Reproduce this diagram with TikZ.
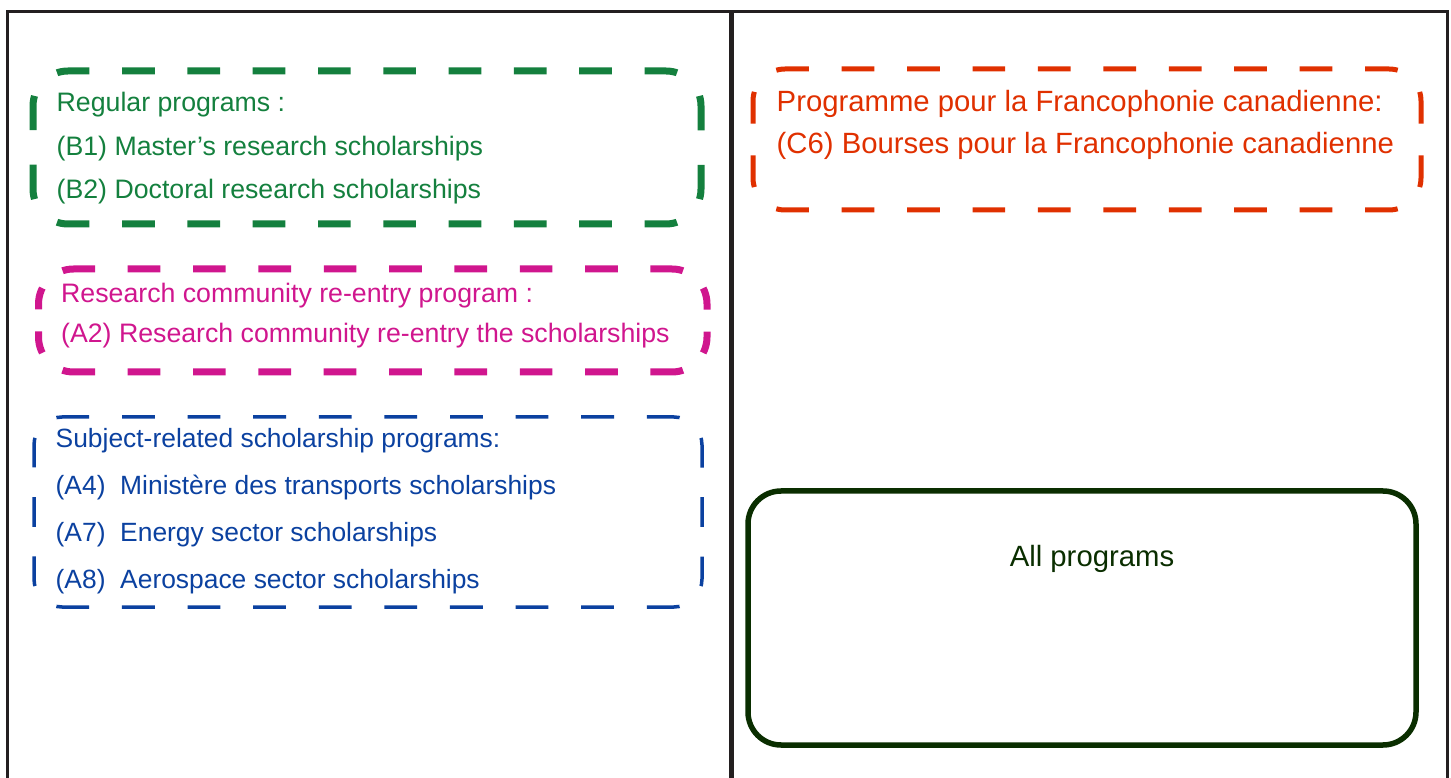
\documentclass[tikz,border=0pt]{standalone}
\usepackage{fontspec}
\setmainfont{Liberation Sans}
\definecolor{pgreen}{RGB}{20,128,62}
\definecolor{pmagenta}{RGB}{208,22,142}
\definecolor{pblue}{RGB}{11,65,160}
\definecolor{pred}{RGB}{224,48,0}
\definecolor{pdark}{RGB}{10,46,0}
\definecolor{pframe}{RGB}{35,31,32}
\newcommand\dashedsides[6]{%
 \pgfmathsetmacro\dsLh{(#4-#2)-2*#6+1.5708*#6}%
 \pgfmathsetmacro\dsLv{(#5-#3)-2*#6+1.5708*#6}%
 \pgfmathsetmacro\dsNh{max(1,round(\dsLh/66))}%
 \pgfmathsetmacro\dsNv{max(2,round(\dsLv/66))}%
 \pgfmathsetmacro\dsHh{\dsLh/\dsNh/2}%
 \pgfmathsetmacro\dsHv{\dsLv/\dsNv/2}%
 \pgfmathsetmacro\dsPh{\dsHh*1.5}%
 \pgfmathsetmacro\dsPv{\dsHv*1.5}%
 \draw[#1, dash pattern=on \dsHh pt off \dsHh pt, dash phase=\dsPh pt] ({#2+#6-#6*0.7071},{#5-#6+#6*0.7071}) arc[start angle=135,end angle=90,radius=#6] -- ({#4-#6},#5) arc[start angle=90,end angle=45,radius=#6];
 \draw[#1, dash pattern=on \dsHv pt off \dsHv pt, dash phase=\dsPv pt] ({#4-#6+#6*0.7071},{#5-#6+#6*0.7071}) arc[start angle=45,end angle=0,radius=#6] -- (#4,{#3+#6}) arc[start angle=0,end angle=-45,radius=#6];
 \draw[#1, dash pattern=on \dsHh pt off \dsHh pt, dash phase=\dsPh pt] ({#4-#6+#6*0.7071},{#3+#6-#6*0.7071}) arc[start angle=-45,end angle=-90,radius=#6] -- ({#2+#6},#3) arc[start angle=-90,end angle=-135,radius=#6];
 \draw[#1, dash pattern=on \dsHv pt off \dsHv pt, dash phase=\dsPv pt] ({#2+#6-#6*0.7071},{#3+#6-#6*0.7071}) arc[start angle=-135,end angle=-180,radius=#6] -- (#2,{#5-#6}) arc[start angle=180,end angle=135,radius=#6];
}
\tikzset{
 txt/.style={anchor=base west, inner sep=0pt, font=\fontsize{26.7}{30}\selectfont},
 bluetxt/.style={anchor=base west, inner sep=0pt, font=\fontsize{26.4}{30}\selectfont},
 bigtxt/.style={inner sep=0pt, font=\fontsize{29.3}{33}\selectfont},
}
\begin{document}
\begin{tikzpicture}[x=1pt,y=1pt]
\useasboundingbox (0,0) rectangle (1451,777);
% frame
\draw[pframe, line width=3pt] (7.5,-5) -- (7.5,765.5) -- (1447,765.5) -- (1447,-5);
\draw[pframe, line width=5pt] (731,-5) -- (731,765.5);
% green dashed box
\dashedsides{pgreen, line width=7pt}{33}{553}{701}{706}{35}
\node[txt, pgreen] (g1) at (56.5,665) {Regular programs :};
\node[txt, pgreen] (g2) at (56.5,621) {(B1) Master’s research scholarships};
\node[txt, pgreen] (g3) at (56.5,578) {(B2) Doctoral research scholarships};
% magenta dashed box
\dashedsides{pmagenta, line width=7pt}{38.5}{405}{707}{508}{35}
\node[txt, pmagenta] (m1) at (61,474) {Research community re-entry program :};
\node[txt, pmagenta] (m2) at (61,434) {(A2) Research community re-entry the scholarships};
% blue dashed box
\dashedsides{pblue, line width=3.5pt}{34}{170}{702}{360}{28}
\node[bluetxt, pblue] (b1) at (55.5,329) {Subject-related scholarship programs:};
\node[bluetxt, pblue] (b2) at (55.5,282) {(A4)\ \ Ministère des transports scholarships};
\node[bluetxt, pblue] (b3) at (55.5,235) {(A7)\ \ Energy sector scholarships};
\node[bluetxt, pblue] (b4) at (55.5,189) {(A8)\ \ Aerospace sector scholarships};
% red dashed box
\dashedsides{pred, line width=5pt}{753}{567}{1421}{708}{32}
\node[bigtxt, anchor=base west, pred] (r1) at (776.5,665) {Programme pour la Francophonie canadienne:};
\node[bigtxt, anchor=base west, pred] (r2) at (776.5,623) {(C6) Bourses pour la Francophonie canadienne};
% all programs box
\draw[pdark, line width=5.5pt, rounded corners=33pt] (748,32) rectangle (1416,286);
\node[bigtxt, anchor=base, pdark] (all) at (1092,211) {All programs};
\end{tikzpicture}
\end{document}
